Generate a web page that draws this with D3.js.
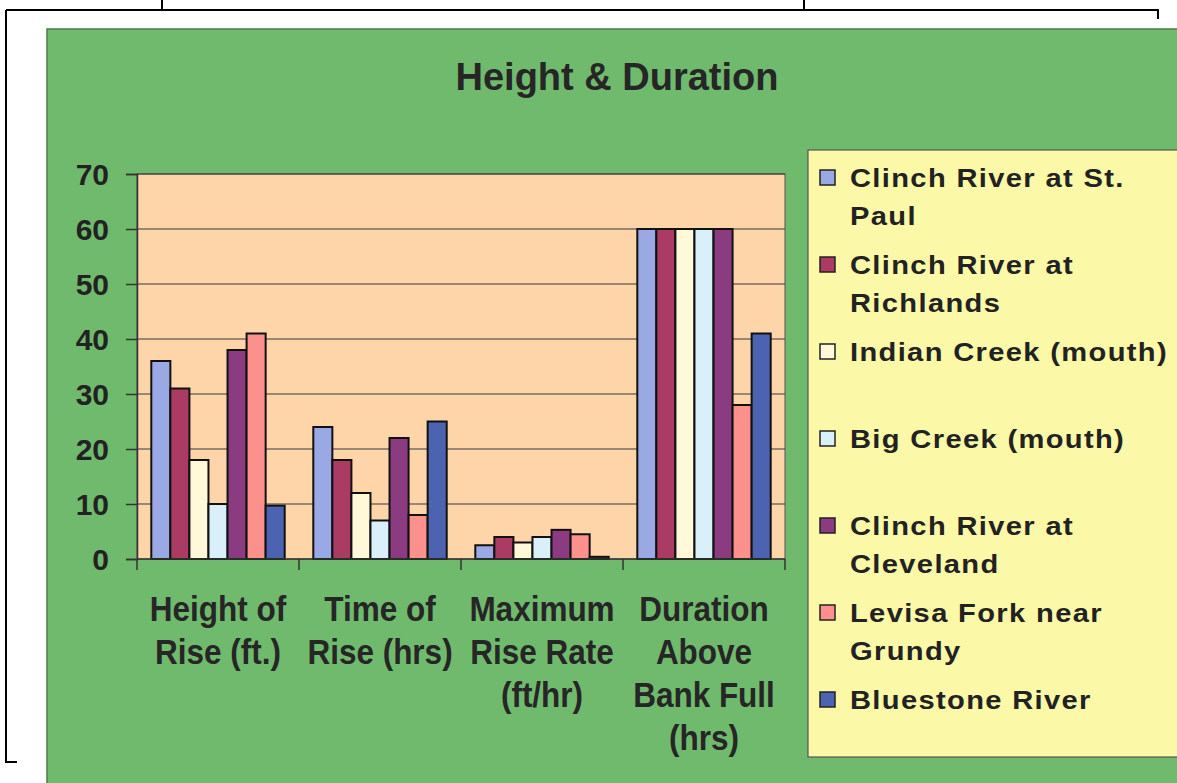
<!DOCTYPE html>
<html lang="en">
<head>
    <meta charset="UTF-8">
    <title>Height &amp; Duration</title>
    <script src="https://d3js.org/d3.v7.min.js"></script>
    <style>
        body { margin: 0; background: #fff; }
        svg { display: block; font-family: "Liberation Sans", Arial, sans-serif; }
        .ylab text { font-size: 30px; font-weight: bold; fill: #222; }
        .xlab { font-size: 35px; font-weight: bold; fill: #262626; }
        .legend-text { font-size: 26px; font-weight: bold; fill: #222; letter-spacing: 1.2px; }
    </style>
</head>
<body>
    <svg id="chart" width="1177" height="783"></svg>
    <script>
        // Data
        const categories = ["Height of Rise (ft.)", "Time of Rise (hrs)", "Maximum Rise Rate (ft/hr)", "Duration Above Bank Full (hrs)"];
        const categoryLines = [
            ["Height of", "Rise (ft.)"],
            ["Time of", "Rise (hrs)"],
            ["Maximum", "Rise Rate", "(ft/hr)"],
            ["Duration", "Above", "Bank Full", "(hrs)"]
        ];
        const seriesNames = ["Clinch River at St. Paul", "Clinch River at Richlands", "Indian Creek (mouth)",
            "Big Creek (mouth)", "Clinch River at Cleveland", "Levisa Fork near Grundy", "Bluestone River"];
        const legendLines = [
            ["Clinch River at St.", "Paul"],
            ["Clinch River at", "Richlands"],
            ["Indian Creek (mouth)"],
            ["Big Creek (mouth)"],
            ["Clinch River at", "Cleveland"],
            ["Levisa Fork near", "Grundy"],
            ["Bluestone River"]
        ];
        const stPaul     = [36, 24, 2.5, 60];
        const richlands  = [31, 18, 4, 60];
        const indianCk   = [18, 12, 3, 60];
        const bigCk      = [10, 7, 4, 60];
        const cleveland  = [38, 22, 5.3, 60];
        const levisa     = [41, 8, 4.5, 28];
        const bluestone  = [9.7, 25, 0.4, 41];
        const seriesValues = [stPaul, richlands, indianCk, bigCk, cleveland, levisa, bluestone];
        const yTicks = [0, 10, 20, 30, 40, 50, 60, 70];
        const colors = ["#9aa9e3", "#aa3b63", "#fff9da", "#d9f0fb", "#8b3b80", "#fc908c", "#4b63b1"];

        const svg = d3.select("#chart");

        // page frame lines
        svg.append("path")
            .attr("d", "M162,0V10M804,0V10M6,10H1158V19M6,10V762H17")
            .attr("fill", "none").attr("stroke", "#000").attr("stroke-width", 2);

        // green panel
        svg.append("rect")
            .attr("x", 47).attr("y", 29).attr("width", 1140).attr("height", 770)
            .attr("fill", "#70ba6d").attr("stroke", "#4d7a4b").attr("stroke-width", 1.5);

        svg.append("text")
            .attr("x", 617).attr("y", 90)
            .attr("text-anchor", "middle")
            .style("font-size", "38px").style("font-weight", "bold").style("fill", "#262626")
            .text("Height & Duration");

        // plot area
        const plot = { left: 137, right: 785, top: 174, bottom: 559 };

        const x0 = d3.scaleBand()
            .domain(categories)
            .range([plot.left, plot.right])
            .padding(0);

        const x1 = d3.scaleBand()
            .domain(seriesNames)
            .range([0, x0.bandwidth()])
            .paddingInner(0)
            .paddingOuter(0.75);

        const y = d3.scaleLinear()
            .domain([0, 70])
            .range([plot.bottom, plot.top]);

        svg.append("rect")
            .attr("x", plot.left).attr("y", plot.top)
            .attr("width", plot.right - plot.left).attr("height", plot.bottom - plot.top)
            .attr("fill", "#fdd5a9").attr("stroke", "#555").attr("stroke-width", 1);

        // gridlines
        svg.append("g")
            .selectAll("line")
            .data(yTicks.filter(d => d > 0))
            .join("line")
            .attr("x1", plot.left).attr("x2", plot.right)
            .attr("y1", d => y(d)).attr("y2", d => y(d))
            .attr("stroke", "#3a3a3a").attr("stroke-width", 1.2);

        // y axis
        const yAxis = svg.append("g")
            .attr("class", "ylab")
            .attr("transform", `translate(${plot.left},0)`)
            .call(d3.axisLeft(y).tickValues(yTicks).tickSize(11).tickPadding(17));
        yAxis.select(".domain").attr("stroke", "#333").attr("stroke-width", 1.5);
        yAxis.selectAll(".tick line").attr("stroke", "#333").attr("stroke-width", 1.5);
        yAxis.selectAll(".tick text").attr("dy", "0.36em");

        // bars
        const groups = svg.append("g")
            .selectAll("g")
            .data(categories)
            .join("g")
            .attr("transform", d => `translate(${x0(d)},0)`);

        groups.selectAll("rect")
            .data((c, ci) => seriesNames.map((s, si) => ({ s, si, v: seriesValues[si][ci] })))
            .join("rect")
            .attr("x", d => x1(d.s))
            .attr("y", d => y(d.v))
            .attr("width", x1.bandwidth())
            .attr("height", d => y(0) - y(d.v))
            .attr("fill", d => colors[d.si])
            .attr("stroke", "#111")
            .attr("stroke-width", 2);

        // x axis with category boundary ticks
        const bounds = categories.map(c => x0(c)).concat([plot.right]);
        svg.append("line")
            .attr("x1", plot.left).attr("x2", plot.right)
            .attr("y1", y(0)).attr("y2", y(0))
            .attr("stroke", "#333").attr("stroke-width", 1.5);
        svg.append("g")
            .selectAll("line")
            .data(bounds)
            .join("line")
            .attr("x1", d => d).attr("x2", d => d)
            .attr("y1", y(0)).attr("y2", y(0) + 11)
            .attr("stroke", "#333").attr("stroke-width", 1.5);

        // category labels
        categories.forEach((c, i) => {
            const cx = x0(c) + x0.bandwidth() / 2;
            const t = svg.append("text")
                .attr("class", "xlab")
                .attr("text-anchor", "middle")
                .attr("transform", `translate(${cx},621) scale(0.9,1)`);
            categoryLines[i].forEach((line, j) => {
                t.append("tspan").attr("x", 0).attr("y", j * 43).text(line);
            });
        });

        // legend
        svg.append("rect")
            .attr("x", 808).attr("y", 150).attr("width", 400).attr("height", 607)
            .attr("fill", "#fbf9a7").attr("stroke", "#555").attr("stroke-width", 1.2);

        const legendY = d3.scalePoint()
            .domain(seriesNames)
            .range([187, 709]);

        const items = svg.append("g")
            .selectAll("g")
            .data(seriesNames)
            .join("g")
            .attr("transform", d => `translate(0,${legendY(d)})`);

        items.append("rect")
            .attr("x", 820).attr("y", -17)
            .attr("width", 15).attr("height", 15)
            .attr("fill", (d, i) => colors[i])
            .attr("stroke", "#222").attr("stroke-width", 1.5);

        items.append("text")
            .attr("class", "legend-text")
            .attr("transform", "translate(850,0) scale(1.12,1)")
            .each(function (d, i) {
                const t = d3.select(this);
                legendLines[i].forEach((line, j) => {
                    t.append("tspan").attr("x", 0).attr("y", j * 38).text(line);
                });
            });
    </script>
</body>
</html>
